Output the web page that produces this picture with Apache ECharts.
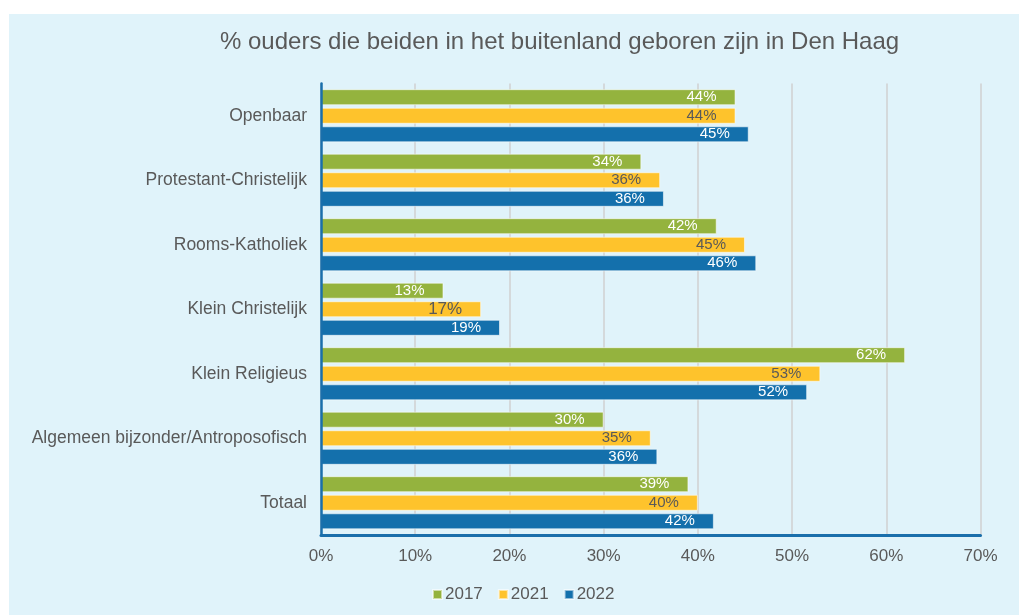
<!DOCTYPE html>
<html>
<head>
<meta charset="utf-8">
<script src="https://cdn.jsdelivr.net/npm/echarts@6/dist/echarts.min.js"></script>
<style>
html,body{margin:0;padding:0;background:#fff;}
#main{width:1019px;height:615px;}
</style>
</head>
<body>
<div id="main"></div>
<script>
var categories = ['Openbaar', 'Protestant-Christelijk', 'Rooms-Katholiek', 'Klein Christelijk', 'Klein Religieus', 'Algemeen bijzonder/Antroposofisch', 'Totaal'];
var years = ['2017', '2021', '2022'];
var values2017 = [44.0, 34.0, 42.0, 13.0, 62.0, 30.0, 39.0];
var values2021 = [44.0, 36.0, 45.0, 17.0, 53.0, 35.0, 40.0];
var values2022 = [45.4, 36.4, 46.2, 19.0, 51.6, 35.7, 41.7];
var xTicks = [0, 10, 20, 30, 40, 50, 60, 70];

var txt = '#595959';
var font = 'Liberation Sans, Arial, sans-serif';

var mychart = echarts.init(document.getElementById('main'), null, {renderer: 'canvas'});

function makeSeries(name, vals, color, labelColor) {
    return {
        name: name,
        type: 'bar',
        barWidth: 16,
        barGap: '16%',
        itemStyle: {color: color, borderColor: 'rgba(255,255,255,0.55)', borderWidth: 1},
        label: {
            show: true,
            position: 'insideRight',
            distance: 19,
            color: labelColor,
            fontSize: 15,
            fontFamily: font,
            formatter: function (p) { return Math.round(p.value) + '%'; }
        },
        data: vals.map(function (v, i) {
            // the 17% label is drawn a little larger in the original
            if (name === '2021' && i === 3) return {value: v, label: {fontSize: 17}};
            return v;
        })
    };
}

var option = {
    animation: false,
    graphic: [{
        type: 'rect', z: -10, silent: true,
        shape: {x: 9, y: 14, width: 1010, height: 601},
        style: {fill: '#e0f3fa'}
    }],
    title: {
        text: '% ouders die beiden in het buitenland geboren zijn in Den Haag',
        left: 220, top: 30, padding: 0,
        textStyle: {color: txt, fontSize: 24, fontWeight: 'normal', fontFamily: font}
    },
    legend: {
        data: years,
        top: 586,
        left: 432,
        padding: 0,
        itemWidth: 9, itemHeight: 9,
        itemGap: 15,
        icon: 'rect',
        textStyle: {color: txt, fontSize: 17, fontFamily: font, padding: [0, 0, 0, -2]}
    },
    grid: {left: 321, right: 38.5, top: 83.5, bottom: 80},
    xAxis: {
        type: 'value',
        min: xTicks[0], max: xTicks[xTicks.length - 1], interval: 10,
        axisLine: {show: true, onZero: false, lineStyle: {color: '#1a6fab', width: 3}},
        axisTick: {show: false},
        axisLabel: {color: txt, fontSize: 17, fontFamily: font, margin: 13, formatter: '{value}%'},
        splitLine: {show: true, lineStyle: {color: '#d0d0d0', width: 1.5}}
    },
    yAxis: {
        type: 'category',
        inverse: true,
        z: 10,
        data: categories,
        axisLine: {show: true, lineStyle: {color: '#1a6fab', width: 2.5}},
        axisTick: {show: false},
        axisLabel: {color: txt, fontSize: 17.5, fontFamily: font, margin: 14}
    },
    series: [
        makeSeries('2017', values2017, '#94b33e', '#ffffff'),
        makeSeries('2021', values2021, '#fec32c', txt),
        makeSeries('2022', values2022, '#1470ac', '#ffffff')
    ]
};
mychart.setOption(option);
</script>
</body>
</html>
